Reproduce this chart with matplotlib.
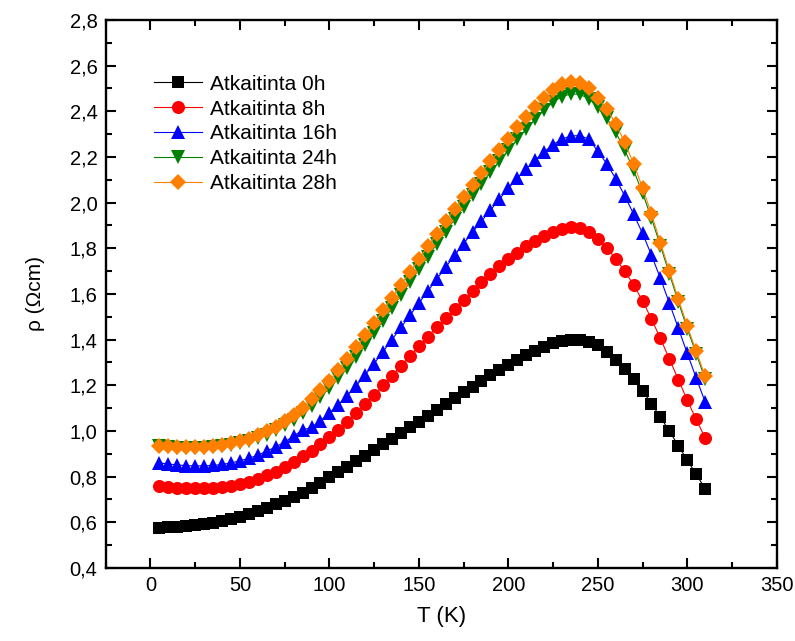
import numpy as np
import matplotlib
matplotlib.use("Agg")
import matplotlib.pyplot as plt
from matplotlib.ticker import MultipleLocator, FuncFormatter

plt.rcParams['font.family'] = ['Liberation Sans', 'DejaVu Sans']

# temperature grid (K)
T = list(range(5, 315, 5))

rho_0h = [0.577, 0.578, 0.580, 0.583, 0.587, 0.592, 0.598, 0.605, 0.614, 0.625,
          0.637, 0.650, 0.664, 0.679, 0.695, 0.712, 0.730, 0.750, 0.772, 0.797,
          0.820, 0.844, 0.868, 0.892, 0.917, 0.942, 0.966, 0.991, 1.016, 1.041,
          1.066, 1.092, 1.118, 1.144, 1.169, 1.194, 1.219, 1.243, 1.267, 1.290,
          1.312, 1.333, 1.352, 1.369, 1.383, 1.394, 1.400, 1.398, 1.390, 1.375,
          1.347, 1.310, 1.270, 1.228, 1.175, 1.120, 1.060, 1.000, 0.935, 0.872,
          0.810, 0.747]

rho_8h = [0.757, 0.754, 0.751, 0.749, 0.748, 0.748, 0.750, 0.754, 0.760, 0.768,
          0.778, 0.790, 0.805, 0.822, 0.842, 0.864, 0.888, 0.914, 0.942, 0.972,
          1.005, 1.040, 1.077, 1.116, 1.157, 1.199, 1.242, 1.285, 1.328, 1.371,
          1.413, 1.455, 1.496, 1.536, 1.575, 1.613, 1.650, 1.686, 1.720, 1.752,
          1.781, 1.808, 1.832, 1.852, 1.872, 1.886, 1.892, 1.888, 1.870, 1.840,
          1.800, 1.755, 1.700, 1.640, 1.570, 1.490, 1.405, 1.315, 1.225, 1.135,
          1.050, 0.970]

rho_16h = [0.860, 0.855, 0.851, 0.848, 0.847, 0.847, 0.849, 0.853, 0.860, 0.869,
           0.880, 0.894, 0.911, 0.930, 0.952, 0.977, 1.004, 1.015, 1.045, 1.078,
           1.115, 1.155, 1.198, 1.245, 1.295, 1.347, 1.400, 1.453, 1.506, 1.559,
           1.612, 1.665, 1.717, 1.769, 1.820, 1.870, 1.919, 1.966, 2.015, 2.062,
           2.106, 2.147, 2.186, 2.222, 2.254, 2.278, 2.292, 2.293, 2.278, 2.225,
           2.170, 2.105, 2.030, 1.950, 1.865, 1.770, 1.668, 1.560, 1.450, 1.340,
           1.232, 1.127]

rho_24h = [0.932, 0.928, 0.926, 0.925, 0.925, 0.926, 0.928, 0.932, 0.938, 0.946,
           0.956, 0.968, 0.984, 1.002, 1.024, 1.049, 1.078, 1.111, 1.147, 1.188,
           1.231, 1.277, 1.325, 1.375, 1.428, 1.483, 1.539, 1.595, 1.651, 1.707,
           1.763, 1.818, 1.873, 1.927, 1.980, 2.032, 2.083, 2.133, 2.182, 2.230,
           2.277, 2.322, 2.365, 2.405, 2.440, 2.464, 2.476, 2.474, 2.455, 2.418,
           2.370, 2.308, 2.232, 2.142, 2.042, 1.932, 1.811, 1.688, 1.566, 1.448,
           1.338, 1.228]

rho_28h = [0.936, 0.933, 0.931, 0.930, 0.930, 0.931, 0.934, 0.939, 0.946, 0.955,
           0.966, 0.980, 0.998, 1.018, 1.042, 1.070, 1.102, 1.138, 1.177, 1.220,
           1.266, 1.315, 1.366, 1.419, 1.473, 1.528, 1.584, 1.640, 1.696, 1.752,
           1.808, 1.863, 1.918, 1.972, 2.025, 2.078, 2.130, 2.180, 2.230, 2.280,
           2.330, 2.375, 2.420, 2.460, 2.495, 2.520, 2.530, 2.525, 2.500, 2.460,
           2.410, 2.345, 2.265, 2.170, 2.065, 1.950, 1.825, 1.700, 1.578, 1.460,
           1.350, 1.240]

labels = ["Atkaitinta 0h", "Atkaitinta 8h", "Atkaitinta 16h",
          "Atkaitinta 24h", "Atkaitinta 28h"]

# marker, colour, marker size (pt)
series = [
    (rho_0h, 's', 'black', 8.2),
    (rho_8h, 'o', '#ff0000', 9.4),
    (rho_16h, '^', '#0000ff', 10.0),
    (rho_24h, 'v', '#008000', 10.0),
    (rho_28h, 'D', '#ff8000', 7.8),
]

fig = plt.figure(figsize=(7.95, 6.41), dpi=100)
ax = fig.add_axes([0.133, 0.114, 0.844, 0.855])

for (vals, mk, col, ms), lab in zip(series, labels):
    ax.plot(T, vals, marker=mk, color=col, markersize=ms, linewidth=0.8,
            markeredgewidth=0, label=lab)

ax.set_xlim(-25, 350)
ax.set_ylim(0.4, 2.8)
ax.xaxis.set_major_locator(MultipleLocator(50))
ax.xaxis.set_minor_locator(MultipleLocator(25))
ax.yaxis.set_major_locator(MultipleLocator(0.2))
ax.yaxis.set_minor_locator(MultipleLocator(0.1))
ax.yaxis.set_major_formatter(FuncFormatter(lambda v, p: f"{v:.1f}".replace('.', ',')))

ax.tick_params(which='both', direction='in', top=True, right=True, width=1.5)
ax.tick_params(which='major', length=7.5, labelsize=14.5, pad=6)
ax.tick_params(which='minor', length=4)
for sp in ax.spines.values():
    sp.set_linewidth(1.7)

ax.set_xlabel("T (K)", fontsize=16, labelpad=8)
ax.set_ylabel("ρ (Ωcm)", fontsize=15, labelpad=18)

ax.legend(loc='upper left', bbox_to_anchor=(0.06, 0.915), frameon=False,
          fontsize=15, handlelength=2.3, handletextpad=0.35, labelspacing=0.28,
          borderaxespad=0)

fig.savefig("out.png", dpi=100, facecolor='white')
